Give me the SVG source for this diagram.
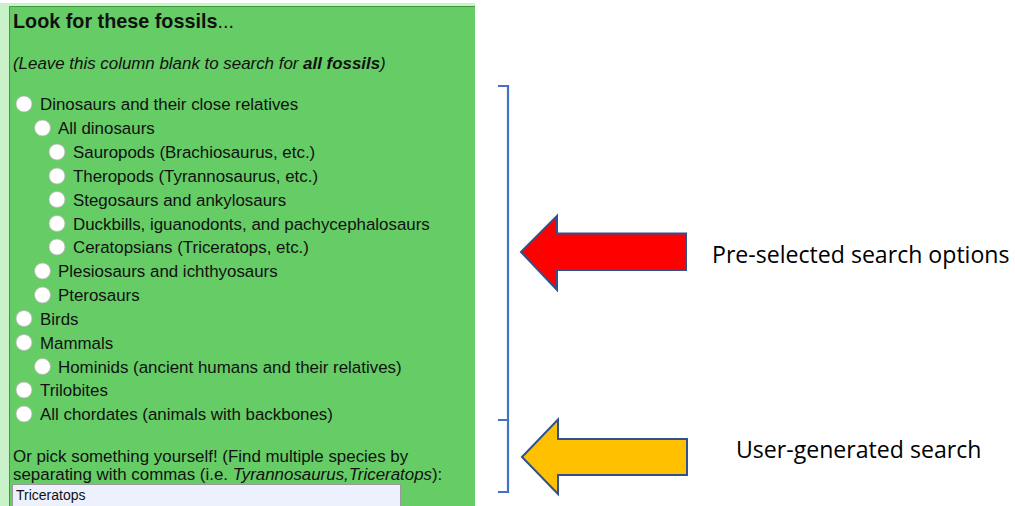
<svg xmlns="http://www.w3.org/2000/svg" width="1015" height="506" viewBox="0 0 1015 506">
<style>
.t{font-family:"Liberation Sans",Arial,sans-serif;font-size:16.9px;fill:#111}
.lbl{font-family:"Open Sans","Noto Sans",sans-serif;font-size:23.1px;fill:#000}
.rb{fill:#fff;stroke:#b5b5b5;stroke-width:0.8}
.br{fill:none;stroke:#4472c4;stroke-width:2.2}
.arr{stroke:#2f528f;stroke-width:2;stroke-linejoin:miter}
</style>
<rect width="1015" height="506" fill="#fff"/>
<g id="panel">
<rect x="0" y="3" width="475" height="503" fill="#c9f2c9"/>
<rect x="9" y="6" width="466" height="500" fill="#66cc66"/>
<path d="M9.5 506 V6.5 H475" fill="none" stroke="#3f9a3f" stroke-width="1"/>
<text class="t" x="13" y="28" style="font-size:19.8px"><tspan font-weight="bold">Look for these fossils</tspan>...</text>
<text class="t" x="13" y="69" font-style="italic">(Leave this column blank to search for <tspan font-weight="bold">all fossils</tspan>)</text>
</g>
<g id="options">
<g id="opt1"><circle class="rb" cx="24" cy="104" r="8"/><text class="t" x="40" y="110">Dinosaurs and their close relatives</text></g>
<g id="opt2"><circle class="rb" cx="42.5" cy="128" r="8"/><text class="t" x="58" y="134">All dinosaurs</text></g>
<g id="opt3"><circle class="rb" cx="57" cy="152" r="8"/><text class="t" x="73" y="158">Sauropods (Brachiosaurus, etc.)</text></g>
<g id="opt4"><circle class="rb" cx="57" cy="176" r="8"/><text class="t" x="73" y="182">Theropods (Tyrannosaurus, etc.)</text></g>
<g id="opt5"><circle class="rb" cx="57" cy="199.5" r="8"/><text class="t" x="73" y="205.5">Stegosaurs and ankylosaurs</text></g>
<g id="opt6"><circle class="rb" cx="57" cy="223.5" r="8"/><text class="t" x="73" y="229.5">Duckbills, iguanodonts, and pachycephalosaurs</text></g>
<g id="opt7"><circle class="rb" cx="57" cy="247" r="8"/><text class="t" x="73" y="253">Ceratopsians (Triceratops, etc.)</text></g>
<g id="opt8"><circle class="rb" cx="42.5" cy="271" r="8"/><text class="t" x="58" y="277">Plesiosaurs and ichthyosaurs</text></g>
<g id="opt9"><circle class="rb" cx="42.5" cy="295" r="8"/><text class="t" x="58" y="301">Pterosaurs</text></g>
<g id="opt10"><circle class="rb" cx="24" cy="318.5" r="8"/><text class="t" x="40" y="324.5">Birds</text></g>
<g id="opt11"><circle class="rb" cx="24" cy="342.5" r="8"/><text class="t" x="40" y="348.5">Mammals</text></g>
<g id="opt12"><circle class="rb" cx="42.5" cy="366.5" r="8"/><text class="t" x="58" y="372.5">Hominids (ancient humans and their relatives)</text></g>
<g id="opt13"><circle class="rb" cx="24" cy="390" r="8"/><text class="t" x="40" y="396">Trilobites</text></g>
<g id="opt14"><circle class="rb" cx="24" cy="414" r="8"/><text class="t" x="40" y="420">All chordates (animals with backbones)</text></g>
</g>
<g id="custom">
<text class="t" x="13" y="462">Or pick something yourself! (Find multiple species by</text>
<text class="t" x="13" y="480">separating with commas (i.e. <tspan font-style="italic">Tyrannosaurus,Triceratops</tspan>):</text>
<rect x="12.5" y="484.5" width="388" height="24" fill="#edf0fd" stroke="#9a9a9a" stroke-width="1"/>
<text class="t" x="16" y="500" style="font-size:14px">Triceratops</text>
</g>
<g id="connectors">
<path class="br" d="M498 86 H508 V492 H498 M508 420 H498"/>
<polygon class="arr" fill="#ff0000" points="521,252 557,216 557,233.5 686,233.5 686,270 557,270 557,290"/>
<polygon class="arr" fill="#ffc000" points="522,457 558,419.5 558,439 687,439 687,475 558,475 558,494"/>
</g>
<g id="labels">
<text class="lbl" x="712" y="263">Pre-selected search options</text>
<text class="lbl" x="736" y="458">User-generated search</text>
</g>
</svg>
